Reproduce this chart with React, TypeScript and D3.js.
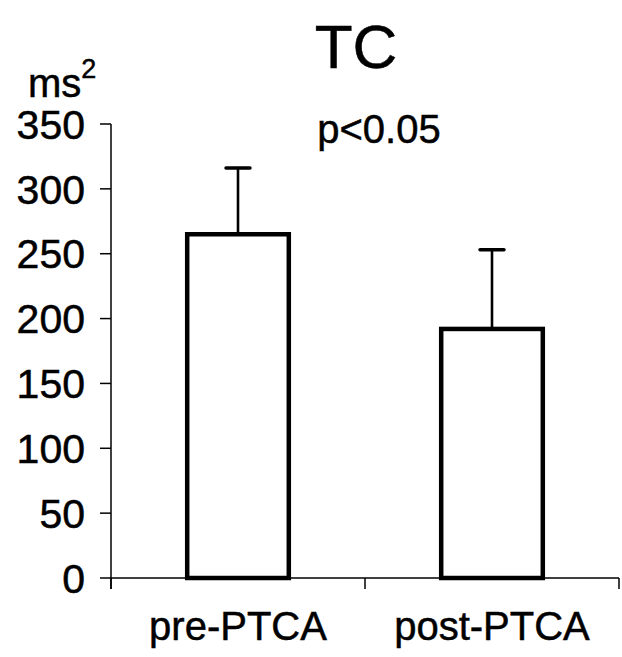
import React from 'react'
import * as d3 from 'd3'

const categories = ['pre-PTCA', 'post-PTCA']
const means = [265, 192]
const upperErr = [316, 253]
const yTicks = [0, 50, 100, 150, 200, 250, 300, 350]

const W = 622
const H = 657
const font = 'Liberation Sans, Arial, Helvetica, sans-serif'

const App = () => {
  const x = d3
    .scaleBand<string>()
    .domain(categories)
    .range([111, 619])
    .paddingInner(0.6)
    .paddingOuter(0.3)

  const y = d3.scaleLinear().domain([0, 350]).range([578, 124])

  const step = x.step()
  const bw = x.bandwidth()
  const [x0, x1] = x.range()
  // boundaries between categories get the x-axis ticks
  const xBounds = [x0, x0 + step, x1]

  return (
    <svg
      width={W}
      height={H}
      style={{ position: 'absolute', left: 0, top: 0, background: '#fff' }}
      fontFamily={font}
    >
      <g stroke="#000" strokeWidth={0.5}>
        <text x={356} y={68} fontSize={62} textAnchor="middle">TC</text>
        <text x={28} y={97} fontSize={40}>
          ms<tspan fontSize={27} dy={-19}>2</tspan>
        </text>
        <text x={379} y={143} fontSize={40} textAnchor="middle">p&lt;0.05</text>
      </g>

      {/* y axis */}
      <line x1={x0} x2={x0} y1={y(350)} y2={y(0) + 11} stroke="#000" strokeWidth={1.5} />
      {yTicks.map(t => (
        <g key={t}>
          <line x1={x0 - 11} x2={x0} y1={y(t)} y2={y(t)} stroke="#000" strokeWidth={1.5} />
          <text x={85} y={y(t)} dy="0.36em" fontSize={41} textAnchor="end" stroke="#000" strokeWidth={0.5}>{t}</text>
        </g>
      ))}

      {/* x axis */}
      <line x1={x0} x2={x1} y1={y(0)} y2={y(0)} stroke="#000" strokeWidth={1.5} />
      {xBounds.map((b, i) => (
        <line key={i} x1={b} x2={b} y1={y(0)} y2={y(0) + 11} stroke="#000" strokeWidth={1.5} />
      ))}

      {categories.map((c, i) => {
        const cx = (x(c) as number) + bw / 2
        return (
          <g key={c}>
            <line x1={cx} x2={cx} y1={y(means[i])} y2={y(upperErr[i])} stroke="#000" strokeWidth={2.6} />
            <line x1={cx - 12} x2={cx + 12} y1={y(upperErr[i])} y2={y(upperErr[i])} stroke="#000" strokeWidth={3.5} strokeLinecap="round" />
            <rect
              x={x(c)}
              y={y(means[i])}
              width={bw}
              height={y(0) - y(means[i])}
              fill="#fff"
              stroke="#000"
              strokeWidth={4.5}
            />
            <text x={cx} y={640} fontSize={40} textAnchor="middle" stroke="#000" strokeWidth={0.5}>{c}</text>
          </g>
        )
      })}
    </svg>
  )
}

export default App
